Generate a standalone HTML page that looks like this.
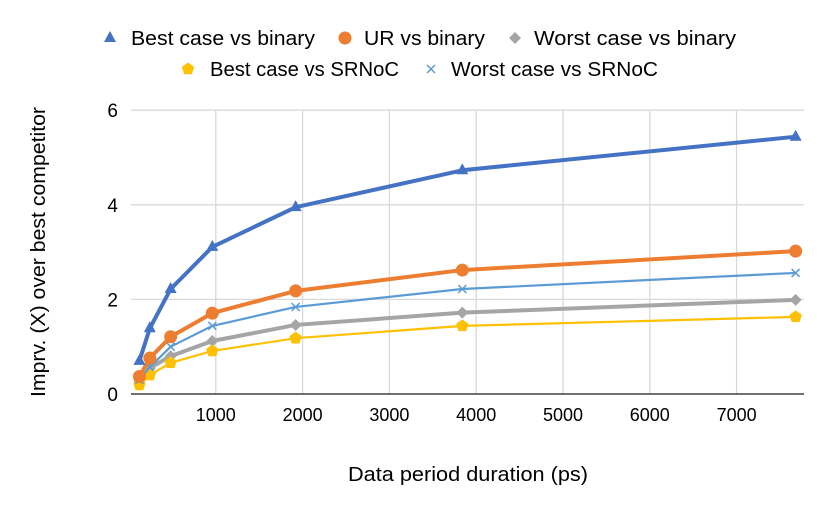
<!DOCTYPE html>
<html><head><meta charset="utf-8"><style>
html,body{margin:0;padding:0;background:#fff;}
svg{display:block;font-family:"Liberation Sans",sans-serif;}
</style></head><body>
<svg id="chart" width="830" height="514"></svg>
<script>
const xValues=[120,240,480,960,1920,3840,7680];
const seriesNames=["Best case vs binary","UR vs binary","Worst case vs binary","Best case vs SRNoC","Worst case vs SRNoC"];
const bestBinary=[0.70,1.39,2.22,3.11,3.95,4.73,5.44];
const urBinary=[0.37,0.76,1.21,1.71,2.18,2.62,3.02];
const worstBinary=[0.27,0.55,0.80,1.12,1.46,1.72,1.99];
const bestSRNoC=[0.19,0.40,0.66,0.91,1.18,1.44,1.63];
const worstSRNoC=[0.30,0.57,1.00,1.44,1.84,2.22,2.56];
const xTicks=[1000,2000,3000,4000,5000,6000,7000];
const yTicks=[0,2,4,6];

const NS="http://www.w3.org/2000/svg";
const svg=document.getElementById('chart');
function X(v){return 129+v*0.0868;}
function Y(v){return 394-v*47.3;}
function mk(tag,attrs,parent){const e=document.createElementNS(NS,tag);for(const k in attrs)e.setAttribute(k,attrs[k]);(parent||svg).appendChild(e);return e;}

// gridlines
yTicks.forEach(t=>{
  if(t>0){const g=mk('line',{x1:131,x2:804,y1:Y(t),y2:Y(t),stroke:'#d9d9d9','stroke-width':1.3});
  
  }
  const l=mk('text',{x:118,y:Y(t)+7,'text-anchor':'end','font-size':19,fill:'#000'});l.textContent=t;
  
  
});
xTicks.forEach(t=>{
  const g=mk('line',{x1:X(t),x2:X(t),y1:Y(6),y2:Y(0),stroke:'#d9d9d9','stroke-width':1.3});
  
  
  const l=mk('text',{x:X(t),y:421,'text-anchor':'middle','font-size':18,fill:'#000'});l.textContent=t;
  
  
});
const ax=mk('line',{x1:131,x2:804,y1:Y(0),y2:Y(0),stroke:'#404040','stroke-width':1.5});



function marker(type,cx,cy,color,g){
  if(type==='tri')return mk('polygon',{points:`${cx},${cy-7} ${cx+6},${cy+4} ${cx-6},${cy+4}`,fill:color},g);
  if(type==='circ')return mk('circle',{cx:cx,cy:cy,r:6.5,fill:color},g);
  if(type==='dia')return mk('polygon',{points:`${cx},${cy-6} ${cx+6},${cy} ${cx},${cy+6} ${cx-6},${cy}`,fill:color},g);
  if(type==='pent'){let p=[];for(let i=0;i<5;i++){const a=-Math.PI/2+i*2*Math.PI/5;p.push((cx+6.5*Math.cos(a))+','+(cy+6.5*Math.sin(a)));}return mk('polygon',{points:p.join(' '),fill:color},g);}
  if(type==='x'){return mk('path',{d:`M${cx-4},${cy-4}L${cx+4},${cy+4}M${cx-4},${cy+4}L${cx+4},${cy-4}`,stroke:color,'stroke-width':1.5,fill:'none'},g);}
}
const series=[
 {vals:worstBinary,color:'#a5a5a5',w:4,m:'dia',name:'series-worst-binary'},
 {vals:bestSRNoC,color:'#ffc000',w:2.2,m:'pent',name:'series-best-srnoc'},
 {vals:worstSRNoC,color:'#5b9bd5',w:2.2,m:'x',name:'series-worst-srnoc'},
 {vals:urBinary,color:'#ed7d31',w:4,m:'circ',name:'series-ur-binary'},
 {vals:bestBinary,color:'#4472c4',w:4,m:'tri',name:'series-best-binary'}
];
series.forEach(s=>{
  const g=mk('g',{});
  
  
  const pts=s.vals.map((v,i)=>X(xValues[i])+','+Y(v)).join(' ');
  const pl=mk('polyline',{points:pts,fill:'none',stroke:s.color,'stroke-width':s.w,'stroke-linejoin':'round'},g);
  
  
  s.vals.forEach((v,i)=>{const m=marker(s.m,X(xValues[i]),Y(v),s.color,g);
    
    });
});

// legend
const legendItems=[
 {m:'tri',c:'#4472c4',mx:110,tx:131,tl:184,y:38,label:seriesNames[0]},
 {m:'circ',c:'#ed7d31',mx:345,tx:364,tl:121,y:38,label:seriesNames[1]},
 {m:'dia',c:'#a5a5a5',mx:515,tx:534,tl:202,y:38,label:seriesNames[2]},
 {m:'pent',c:'#ffc000',mx:188,tx:210,tl:189,y:69,label:seriesNames[3]},
 {m:'x',c:'#5b9bd5',mx:431,tx:451,tl:207,y:69,label:seriesNames[4]}
];
legendItems.forEach(it=>{
  const g=mk('g',{});
  
  
  marker(it.m,it.mx,it.y,it.c,g);
  const t=mk('text',{x:it.tx,y:it.y+7,'font-size':20,fill:'#000',textLength:it.tl,lengthAdjust:'spacingAndGlyphs'},g);
  t.textContent=it.label;
});
const xt=mk('text',{x:468,y:481,'text-anchor':'middle','font-size':20,fill:'#000',textLength:240,lengthAdjust:'spacingAndGlyphs'});
xt.textContent='Data period duration (ps)';


const yt=mk('text',{x:0,y:0,'text-anchor':'middle','font-size':20,fill:'#000',transform:'translate(45,252) rotate(-90)',textLength:290,lengthAdjust:'spacingAndGlyphs'});
yt.textContent='Imprv. (X) over best competitor';


</script>
</body></html>
